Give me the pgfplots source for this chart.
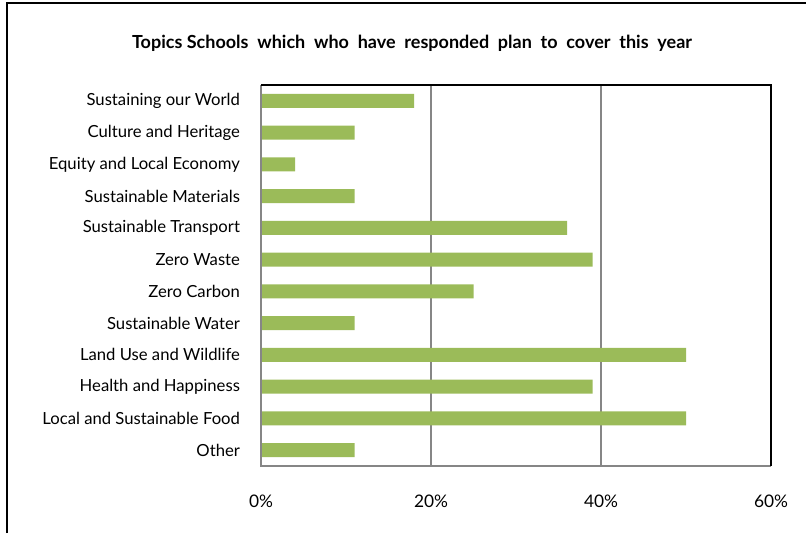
\documentclass[border=0pt]{standalone}
\usepackage{pgfplots}
\pgfplotsset{compat=1.18}
\usepackage{fontspec}
\setmainfont{Lato}
\definecolor{bargreen}{HTML}{9BBB59}
\definecolor{gridgray}{HTML}{868686}
\begin{document}
% 1px = 0.75pt, picture 806x533 px = 604.5pt x 399.75pt
\begin{tikzpicture}
\useasboundingbox (0,0) rectangle (604.5pt,399.75pt);
% outer chart frame (cropped at right and bottom)
\draw[line width=2pt] (5.25pt,0) -- (5.25pt,397.5pt) -- (610pt,397.5pt);
\node[font=\bfseries\fontsize{13.5}{15}\selectfont] at (309pt,367.5pt) {Topics Schools\ \ which\ \ who\ \ have\ \ responded\ \ plan\ \ to\ \ cover\ \ this\ \ year};
\begin{axis}[
  at={(195.75pt,50.25pt)}, anchor=south west,
  scale only axis,
  width=382.5pt, height=285.75pt,
  xbar, bar width=10.5pt,
  xmin=0, xmax=60,
  ymin=-0.5, ymax=11.5,
  xtick={0,20,40,60},
  xticklabel={\pgfmathprintnumber{\tick}\%},
  /pgf/number format/assume math mode=true,
  ytick={0,...,11},
  yticklabels={Other, Local and Sustainable Food, Health and Happiness, Land Use and Wildlife, Sustainable Water, Zero Carbon, Zero Waste, Sustainable Transport, Sustainable Materials, {Equity and Local Economy}, Culture and Heritage, Sustaining our World},
  tick style={draw=none},
  xmajorgrids, major grid style={gridgray, line width=1pt},
  axis line style={draw=none},
  x tick label style={font=\fontsize{13}{15}\selectfont, yshift=-18pt},
  y tick label style={font=\fontsize{12.5}{14}\selectfont, xshift=-8pt},
  clip=false,
]
\addplot[fill=bargreen, draw=none] coordinates {
  (11,0) (50,1) (39,2) (50,3) (11,4) (25,5) (39,6) (36,7) (11,8) (4,9) (11,10) (18,11)};
\draw[gridgray, line width=1pt] (rel axis cs:0,1) -- (rel axis cs:0,0) -- (rel axis cs:1,0);
\draw[black, line width=1.2pt] (rel axis cs:0,1) -- (rel axis cs:1,1) -- (rel axis cs:1,0);
\end{axis}
\end{tikzpicture}
\end{document}
